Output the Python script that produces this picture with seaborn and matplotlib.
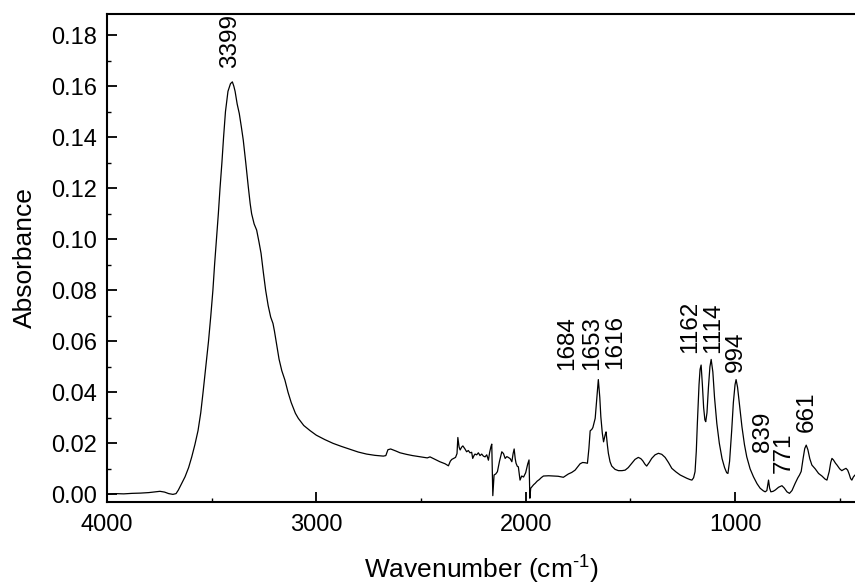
import numpy as np
import pandas as pd
import seaborn as sns
import matplotlib
matplotlib.use("Agg")
import matplotlib.pyplot as plt
from matplotlib.ticker import MultipleLocator, FormatStrFormatter

# spectrum (cm-1, absorbance)
wavenumber = [
    4000, 3960, 3920, 3880, 3840, 3800, 3770, 3747, 3725, 3705, 3685, 3670,
    3659, 3645, 3627, 3610, 3595, 3580, 3565, 3552, 3541, 3528, 3515, 3504,
    3494, 3486, 3477, 3468, 3460, 3451, 3443, 3434, 3422, 3410, 3401, 3394,
    3388, 3378, 3368, 3358, 3349, 3337, 3325, 3316, 3309, 3297, 3285, 3274,
    3264, 3253, 3242, 3230, 3218, 3207, 3200, 3192, 3178, 3165, 3150, 3135,
    3120, 3100, 3086, 3060, 3030, 3000, 2960, 2920, 2880, 2840, 2800, 2760,
    2720, 2680, 2668, 2658, 2645, 2620, 2600, 2570, 2540, 2500, 2470, 2457,
    2440, 2410, 2385, 2369, 2360, 2353, 2335, 2328, 2324, 2318, 2313, 2306,
    2300, 2290, 2282, 2274, 2266, 2258, 2253, 2247, 2242, 2234, 2226, 2218,
    2210, 2202, 2194, 2186, 2178, 2172, 2166, 2162, 2157, 2151, 2143, 2135,
    2125, 2114, 2106, 2098, 2090, 2083, 2074, 2066, 2060, 2055, 2050, 2046,
    2040, 2035, 2027, 2019, 2010, 2000, 1990, 1984, 1980, 1976, 1970, 1962,
    1955, 1945, 1935, 1925, 1915, 1890, 1868, 1845, 1820, 1796, 1780, 1764,
    1750, 1740, 1728, 1716, 1705, 1698, 1692, 1684, 1679, 1668, 1660, 1653,
    1646, 1641, 1634, 1628, 1620, 1616, 1610, 1605, 1597, 1589, 1573, 1557,
    1540, 1525, 1510, 1493, 1478, 1462, 1450, 1441, 1430, 1422, 1410, 1398,
    1382, 1366, 1350, 1334, 1318, 1302, 1282, 1262, 1245, 1230, 1215, 1206,
    1198, 1191, 1185, 1180, 1172, 1167, 1162, 1156, 1150, 1144, 1140, 1134,
    1127, 1120, 1114, 1106, 1098, 1087, 1075, 1062, 1050, 1040, 1034, 1026,
    1016, 1008, 1000, 995, 988, 980, 967, 955, 944, 928, 912, 895,
    880, 865, 856, 848, 840, 835, 829, 818, 808, 792, 776, 765,
    752, 740, 728, 713, 700, 692, 684, 675, 667, 660, 652, 643,
    633, 617, 601, 585, 570, 561, 550, 543, 537, 530, 520, 513,
    500, 490, 480, 470, 462, 455, 448, 442, 435, 427,
]
absorbance = [
    0.0000, 0.0003, 0.0002, 0.0004, 0.0005, 0.0007, 0.0010, 0.0012, 0.0009, 0.0003, 0.0000, 0.0003,
    0.0017, 0.0040, 0.0069, 0.0105, 0.0147, 0.0195, 0.0250, 0.0320, 0.0400, 0.0500, 0.0600, 0.0700,
    0.0800, 0.0900, 0.1000, 0.1100, 0.1200, 0.1300, 0.1400, 0.1500, 0.1580, 0.1610, 0.1617, 0.1600,
    0.1580, 0.1530, 0.1493, 0.1440, 0.1389, 0.1300, 0.1206, 0.1140, 0.1100, 0.1060, 0.1036, 0.0990,
    0.0945, 0.0870, 0.0800, 0.0740, 0.0695, 0.0670, 0.0640, 0.0600, 0.0530, 0.0485, 0.0448, 0.0400,
    0.0360, 0.0318, 0.0298, 0.0270, 0.0250, 0.0232, 0.0215, 0.0200, 0.0188, 0.0177, 0.0166, 0.0158,
    0.0153, 0.0150, 0.0152, 0.0175, 0.0178, 0.0170, 0.0163, 0.0157, 0.0152, 0.0147, 0.0143, 0.0147,
    0.0140, 0.0128, 0.0120, 0.0112, 0.0130, 0.0137, 0.0145, 0.0160, 0.0223, 0.0185, 0.0174, 0.0185,
    0.0190, 0.0178, 0.0167, 0.0172, 0.0163, 0.0165, 0.0141, 0.0152, 0.0158, 0.0155, 0.0163, 0.0152,
    0.0158, 0.0150, 0.0147, 0.0155, 0.0134, 0.0165, 0.0187, 0.0197, -0.0005, 0.0076, 0.0080, 0.0089,
    0.0130, 0.0167, 0.0160, 0.0141, 0.0148, 0.0145, 0.0140, 0.0128, 0.0160, 0.0178, 0.0140, 0.0122,
    0.0110, 0.0108, 0.0056, 0.0072, 0.0068, 0.0085, 0.0120, 0.0135, -0.0015, 0.0024, 0.0030, 0.0038,
    0.0043, 0.0052, 0.0058, 0.0066, 0.0072, 0.0073, 0.0072, 0.0071, 0.0067, 0.0080, 0.0086, 0.0095,
    0.0110, 0.0120, 0.0125, 0.0124, 0.0122, 0.0180, 0.0249, 0.0255, 0.0262, 0.0298, 0.0380, 0.0450,
    0.0380, 0.0304, 0.0240, 0.0206, 0.0235, 0.0245, 0.0195, 0.0161, 0.0128, 0.0111, 0.0098, 0.0093,
    0.0093, 0.0095, 0.0105, 0.0122, 0.0137, 0.0145, 0.0140, 0.0132, 0.0118, 0.0111, 0.0125, 0.0141,
    0.0155, 0.0161, 0.0157, 0.0145, 0.0125, 0.0102, 0.0088, 0.0076, 0.0069, 0.0063, 0.0058, 0.0056,
    0.0065, 0.0089, 0.0170, 0.0278, 0.0430, 0.0490, 0.0507, 0.0430, 0.0340, 0.0292, 0.0285, 0.0320,
    0.0420, 0.0500, 0.0529, 0.0480, 0.0380, 0.0278, 0.0200, 0.0140, 0.0105, 0.0085, 0.0082, 0.0130,
    0.0250, 0.0360, 0.0430, 0.0450, 0.0420, 0.0360, 0.0265, 0.0195, 0.0147, 0.0100, 0.0069, 0.0042,
    0.0024, 0.0014, 0.0010, 0.0015, 0.0056, 0.0025, 0.0010, 0.0012, 0.0017, 0.0028, 0.0034, 0.0025,
    0.0010, 0.0004, 0.0015, 0.0043, 0.0065, 0.0076, 0.0090, 0.0140, 0.0180, 0.0193, 0.0175, 0.0140,
    0.0115, 0.0100, 0.0082, 0.0072, 0.0060, 0.0056, 0.0090, 0.0125, 0.0141, 0.0135, 0.0122, 0.0115,
    0.0100, 0.0093, 0.0098, 0.0102, 0.0095, 0.0080, 0.0062, 0.0056, 0.0068, 0.0076,
]

# peak labels: text, where the label sits (cm-1), bottom of the label (absorbance)
peak_labels = ["3399", "1684", "1653", "1616", "1162", "1114", "994", "839", "771", "661"]
label_x = [3410, 1802, 1683, 1573, 1214, 1105, 995, 868, 765, 657]
label_y = [0.167, 0.0487, 0.0487, 0.0490, 0.0553, 0.0555, 0.048, 0.0167, 0.0082, 0.0245]

df = pd.DataFrame({"wavenumber": wavenumber, "absorbance": absorbance})

sns.set_style("ticks")
plt.rcParams['font.family'] = ['Liberation Sans', 'DejaVu Sans']
plt.rcParams['mathtext.default'] = 'regular'
for key in ["text.color", "axes.labelcolor", "xtick.color", "ytick.color", "axes.edgecolor"]:
    plt.rcParams[key] = "black"

fig = plt.figure(figsize=(8.55, 5.85), dpi=100)
ax = fig.add_axes([0.1251, 0.1427, 0.8749, 0.8329])

sns.lineplot(data=df, x="wavenumber", y="absorbance", sort=False, estimator=None,
             color="black", linewidth=0.9, ax=ax)

for txt, x, y in zip(peak_labels, label_x, label_y):
    ax.text(x, y, txt, rotation=90, ha="center", va="bottom", fontsize=17.5)

ax.set_xlim(4000, 427)
ax.set_ylim(-0.0028, 0.1882)
ax.xaxis.set_major_locator(MultipleLocator(1000))
ax.xaxis.set_minor_locator(MultipleLocator(500))
ax.yaxis.set_major_locator(MultipleLocator(0.02))
ax.yaxis.set_minor_locator(MultipleLocator(0.01))
ax.yaxis.set_major_formatter(FormatStrFormatter('%.2f'))

ax.tick_params(which="major", direction="in", length=7, width=1.3, labelsize=17, pad=7)
ax.tick_params(which="minor", direction="in", length=3, width=1.0)
ax.tick_params(axis="x", which="major", pad=9)

for side in ["left", "bottom", "top"]:
    ax.spines[side].set_linewidth(1.5)
ax.spines["right"].set_visible(False)

ax.set_xlabel("Wavenumber (cm$^{‐1}$)", fontsize=19, labelpad=13)
ax.set_ylabel("Absorbance", fontsize=19, labelpad=10)

fig.savefig("out.png", dpi=100)
